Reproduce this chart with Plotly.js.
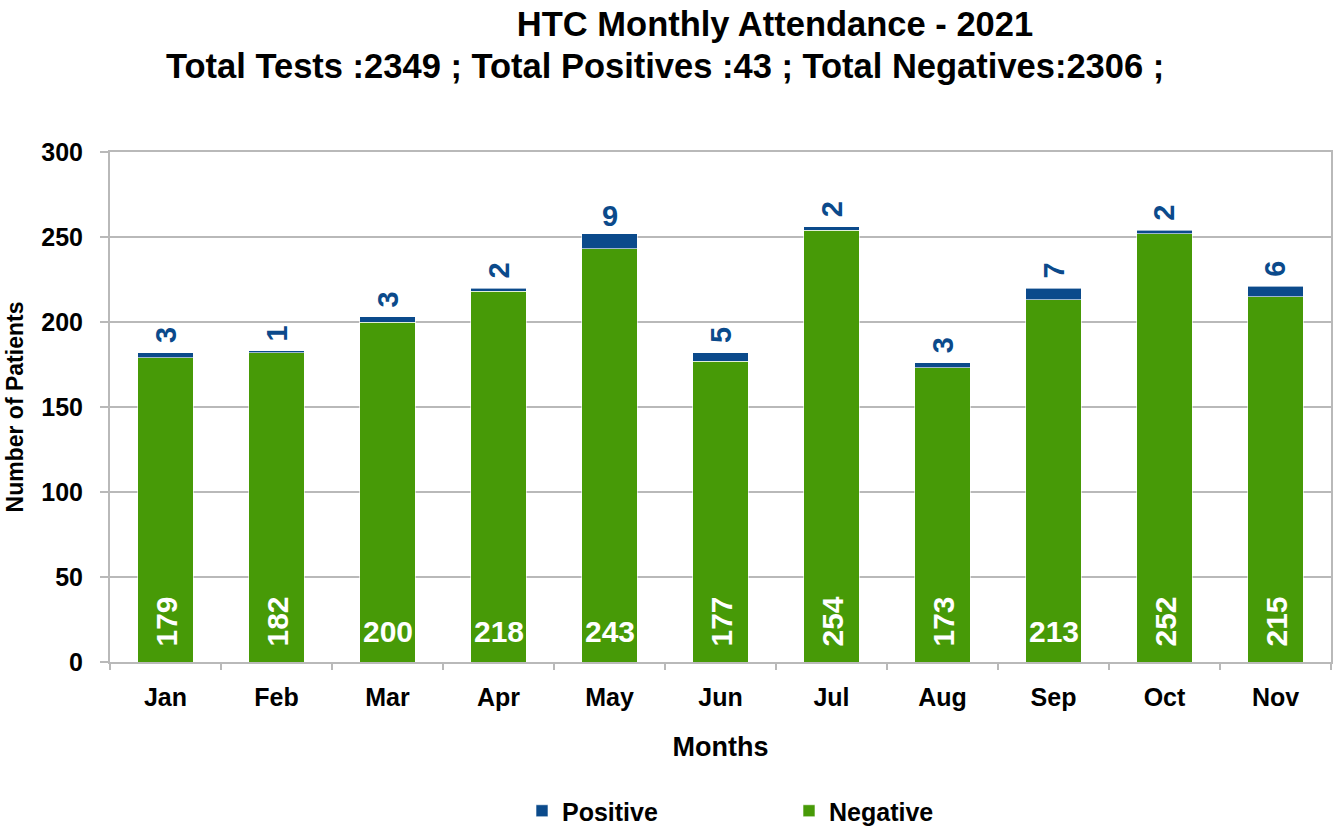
<!DOCTYPE html>
<html>
<head>
<meta charset="utf-8">
<script src="https://cdn.plot.ly/plotly-3.0.1.min.js"></script>
<style>
  body { margin: 0; background: #ffffff; }
  #chart { width: 1333px; height: 829px; }
</style>
</head>
<body>
<div id="chart"></div>
<script>
// values
const months = ["Jan", "Feb", "Mar", "Apr", "May", "Jun", "Jul", "Aug", "Sep", "Oct", "Nov"];
const negatives = [179, 182, 200, 218, 243, 177, 254, 173, 213, 252, 215];
const positives = [3, 1, 3, 2, 9, 5, 2, 3, 7, 2, 6];
const yTicks = [0, 50, 100, 150, 200, 250, 300];

// label orientation as drawn in the original (0 = flat, -90 = rotated)
const posAngles = [-90, -90, -90, -90, 0, -90, -90, -90, -90, -90, -90];
const negAngles = [-90, -90, 0, 0, 0, -90, -90, -90, 0, -90, -90];

const GREEN = "#479A07";
const BLUE = "#0B4A8B";
const GRID = "#b9b9b9";
const FONT = "Liberation Sans, Arial, sans-serif";

const totalPos = positives.reduce((a, b) => a + b, 0);
const totalNeg = negatives.reduce((a, b) => a + b, 0);
const totalTests = totalPos + totalNeg;

const traces = [
  {
    type: "bar",
    name: "Negative",
    x: months,
    y: negatives,
    marker: { color: GREEN, line: { color: "rgba(255,255,255,0.6)", width: 1 } },
    hoverinfo: "skip",
  },
  {
    type: "bar",
    name: "Positive",
    x: months,
    y: positives,
    marker: { color: BLUE, line: { color: "rgba(255,255,255,0.6)", width: 1 } },
    hoverinfo: "skip",
  },
];

let annotations = [];

months.forEach((m, i) => {
  // positive count above the stack
  annotations.push({
    x: m,
    y: negatives[i] + positives[i],
    xref: "x",
    yref: "y",
    text: String(positives[i]),
    showarrow: false,
    textangle: posAngles[i],
    xanchor: "center",
    yanchor: "bottom",
    yshift: posAngles[i] === 0 ? 0 : 7,
    font: { family: FONT, size: 29, color: BLUE, weight: "bold" },
  });
  // negative count at the bottom of the bar
  annotations.push({
    x: m,
    y: 0,
    xref: "x",
    yref: "y",
    text: String(negatives[i]),
    showarrow: false,
    textangle: negAngles[i],
    xanchor: "center",
    yanchor: "bottom",
    yshift: negAngles[i] === 0 ? 12 : 13,
    font: { family: FONT, size: 30, color: "#ffffff", weight: "bold" },
  });
});

// second title line
annotations.push({
  xref: "paper",
  yref: "paper",
  x: (665 - 110) / 1221,
  y: 1,
  yshift: 152 - 66,
  xanchor: "center",
  yanchor: "middle",
  showarrow: false,
  text: `Total Tests :${totalTests} ; Total Positives :${totalPos} ; Total Negatives:${totalNeg} ;`,
  font: { family: FONT, size: 34.5, color: "#000000", weight: "bold" },
});

const layout = {
  width: 1333,
  height: 829,
  barmode: "stack",
  bargap: 0.5,
  paper_bgcolor: "#ffffff",
  plot_bgcolor: "#ffffff",
  font: { family: FONT, color: "#000000" },
  margin: { l: 110, r: 2, t: 152, b: 167 },
  showlegend: true,
  title: {
    text: "HTC Monthly Attendance - 2021",
    x: 775 / 1333,
    xanchor: "center",
    y: 1 - 24 / 829,
    yanchor: "middle",
    font: { family: FONT, size: 34.5, color: "#000000", weight: "bold" },
  },
  xaxis: {
    type: "category",
    tickfont: { family: FONT, size: 25, color: "#000000", weight: "bold" },
    ticks: "outside",
    tickson: "boundaries",
    ticklen: 6,
    tickwidth: 2,
    tickcolor: GRID,
    ticklabelstandoff: 12,
    showline: true,
    linecolor: GRID,
    linewidth: 2,
    mirror: true,
    showgrid: false,
    title: {
      text: "Months",
      standoff: 27,
      font: { family: FONT, size: 27, color: "#000000", weight: "bold" },
    },
    fixedrange: true,
  },
  yaxis: {
    range: [0, 300],
    tickvals: yTicks,
    tickfont: { family: FONT, size: 25, color: "#000000", weight: "bold" },
    ticks: "outside",
    ticklen: 8,
    tickwidth: 2,
    tickcolor: GRID,
    ticklabelstandoff: 12,
    showline: true,
    linecolor: GRID,
    linewidth: 2,
    mirror: true,
    showgrid: true,
    gridcolor: GRID,
    gridwidth: 2,
    zeroline: false,
    title: {
      text: "Number of Patients",
      standoff: 11,
      font: { family: FONT, size: 23, color: "#000000", weight: "bold" },
    },
    fixedrange: true,
  },
  legend: {
    orientation: "h",
    traceorder: "reversed",
    xref: "container",
    yref: "container",
    x: 522 / 1333,
    xanchor: "left",
    y: 1 - 811 / 829,
    yanchor: "middle",
    entrywidth: 222,
    entrywidthmode: "pixels",
    font: { family: FONT, size: 25, color: "#000000", weight: "bold" },
    itemclick: false,
    itemdoubleclick: false,
  },
  annotations: annotations,
};

Plotly.newPlot("chart", traces, layout, { displayModeBar: false, staticPlot: true });
</script>
</body>
</html>
